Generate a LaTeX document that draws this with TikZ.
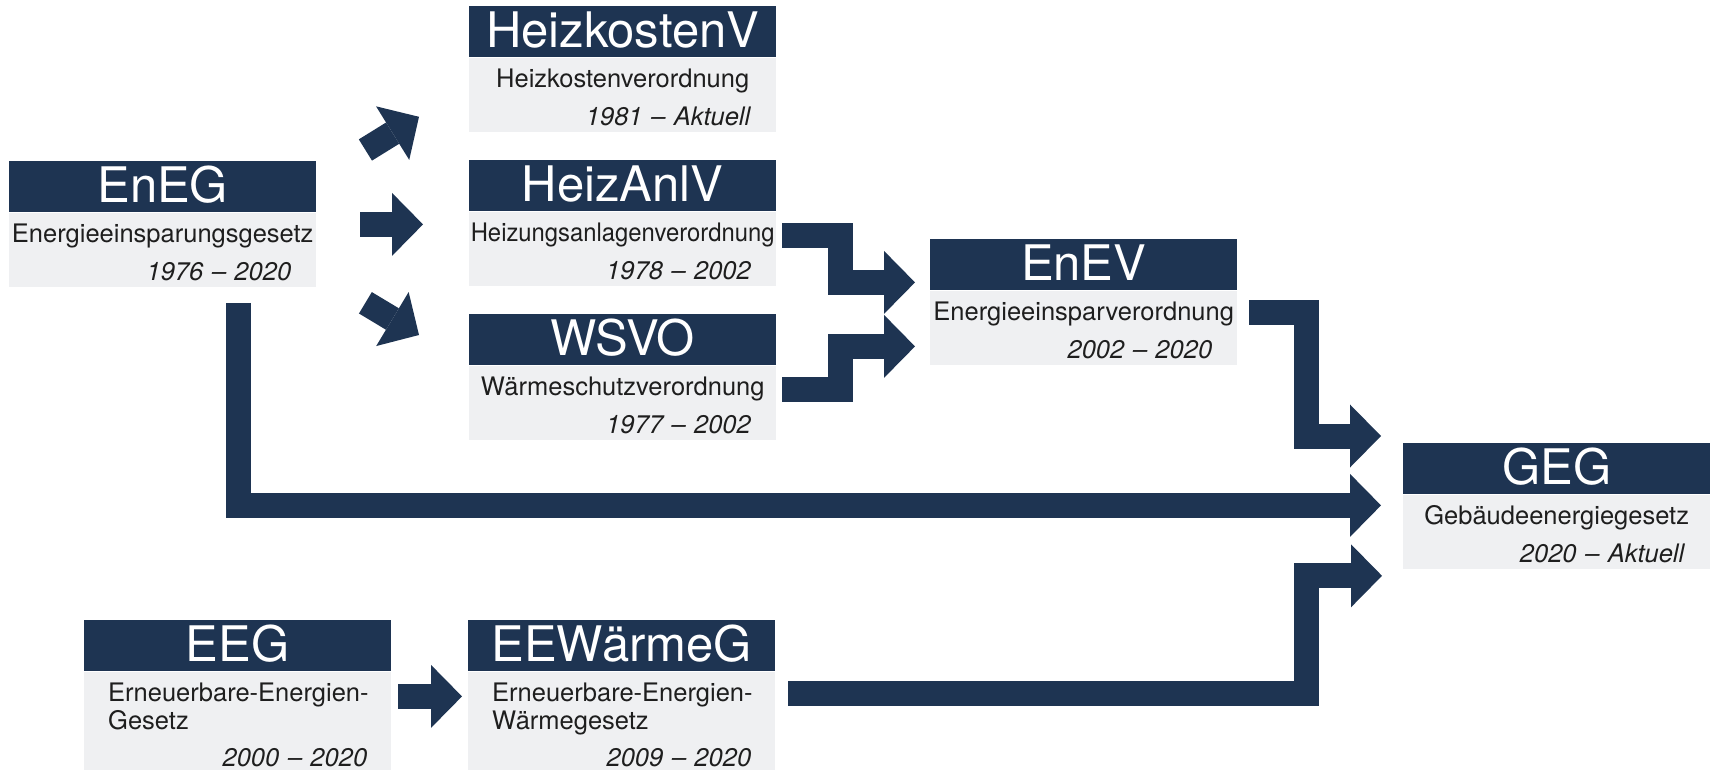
\documentclass[tikz,border=0pt]{standalone}
\usepackage{fontspec}
\usepackage{graphicx}
\setmainfont{TeX Gyre Heros}
\usetikzlibrary{positioning,arrows.meta}
\definecolor{navy}{RGB}{30,52,82}
\definecolor{hellgrau}{RGB}{239,240,242}
\definecolor{schrift}{RGB}{30,30,30}
\tikzset{
	kopf/.style={fill=navy, text=white, anchor=north west, minimum width=307pt, inner sep=0pt, text height=41pt, text depth=10pt, font=\fontsize{49}{55}\selectfont},
	koerper/.style={fill=hellgrau, text=schrift, inner xsep=25pt, inner ysep=0pt, text width=257pt, align=center, text height=30pt, text depth=44pt, font=\fontsize{25.5}{28}\selectfont},
	koerperzwei/.style={koerper, align=left, inner xsep=24pt, text width=259pt, text depth=68pt},
	pfeil/.style={draw=navy, line width=25pt, line join=miter, -{Triangle[length=31pt,width=63pt,line width=0pt]}}
}
\begin{document}
\begin{tikzpicture}[x=1pt,y=1pt]
	\useasboundingbox (0,0) rectangle (1711,-770);

	\node[kopf] (heizkostenv) at (469,-6) {HeizkostenV};
	\node[koerper, below=0pt of heizkostenv] (heizkostenvb) {\makebox[\hsize]{Heizkostenverordnung}\\[10pt]\hfill\textit{1981 – Aktuell}};
	\node[kopf] (eneg) at (9,-161) {EnEG};
	\node[koerper, below=0pt of eneg] (enegb) {\makebox[\hsize]{Energieeinsparungsgesetz}\\[10pt]\hfill\textit{1976 – 2020}};
	\node[kopf] (heizanlv) at (469,-160) {HeizAnlV};
	\node[koerper, below=0pt of heizanlv] (heizanlvb) {\makebox[\hsize]{\scalebox{0.935}[1]{Heizungsanlagenverordnung}}\\[10pt]\hfill\textit{1978 – 2002}};
	\node[kopf] (wsvo) at (469,-314) {WSVO};
	\node[koerper, below=0pt of wsvo] (wsvob) {\makebox[\hsize]{Wärmeschutzverordnung}\\[10pt]\hfill\textit{1977 – 2002}};
	\node[kopf] (enev) at (930,-239) {EnEV};
	\node[koerper, below=0pt of enev] (enevb) {\makebox[\hsize]{Energieeinsparverordnung}\\[10pt]\hfill\textit{2002 – 2020}};
	\node[kopf] (geg) at (1403,-443) {GEG};
	\node[koerper, below=0pt of geg] (gegb) {\makebox[\hsize]{Gebäudeenergiegesetz}\\[10pt]\hfill\textit{2020 – Aktuell}};
	\node[kopf] (eeg) at (84,-620) {EEG};
	\node[koerperzwei, below=0pt of eeg] (eegb) {\mbox{Erneuerbare-Energien-}\\Gesetz\\[9pt]\hfill\textit{2000 – 2020}};
	\node[kopf] (eew) at (468,-620) {EEWärmeG};
	\node[koerperzwei, below=0pt of eew] (eewb) {\mbox{Erneuerbare-Energien-}\\Wärmegesetz\\[9pt]\hfill\textit{2009 – 2020}};

	\coordinate (z1) at ([xshift=-15pt,yshift=8pt]enevb.north west);
	\coordinate (z2) at ([xshift=-15pt,yshift=-56pt]enevb.north west);
	\coordinate (z3) at ([xshift=-22pt,yshift=7pt]geg.north west);
	\coordinate (z4) at ([xshift=-22pt,yshift=-11pt]gegb.north west);
	\coordinate (z5) at ([xshift=-21pt,yshift=-7pt]gegb.south west);

	\draw[pfeil] ([xshift=49pt,yshift=11pt]eneg.north east) -- ([xshift=-50pt,yshift=15pt]heizkostenvb.south west);
	\draw[pfeil] ([xshift=44pt,yshift=-12pt]enegb.north east) -- ([xshift=-46pt,yshift=-13pt]heizanlvb.north west);
	\draw[pfeil] ([xshift=49pt,yshift=-16pt]enegb.south east) -- ([xshift=-50pt,yshift=-21pt]wsvo.north west);
	\draw[pfeil] ([xshift=6pt,yshift=-24pt]heizanlvb.north east) -| ([xshift=-75pt]z1) -- (z1);
	\draw[pfeil] ([xshift=6pt,yshift=-24.5pt]wsvob.north east) -| ([xshift=-75pt]z2) -- (z2);
	\draw[pfeil] ([xshift=12pt,yshift=-22pt]enevb.north east) -| ([xshift=-75pt]z3) -- (z3);
	\draw[pfeil] ([xshift=76pt,yshift=-16pt]enegb.south) |- (z4);
	\draw[pfeil] ([xshift=13pt,yshift=-22pt]eewb.north east) -| ([xshift=-76pt]z5) -- (z5);
	\draw[pfeil] ([xshift=7pt,yshift=-25pt]eegb.north east) -- ([xshift=-6pt,yshift=-25pt]eewb.north west);
\end{tikzpicture}
\end{document}
